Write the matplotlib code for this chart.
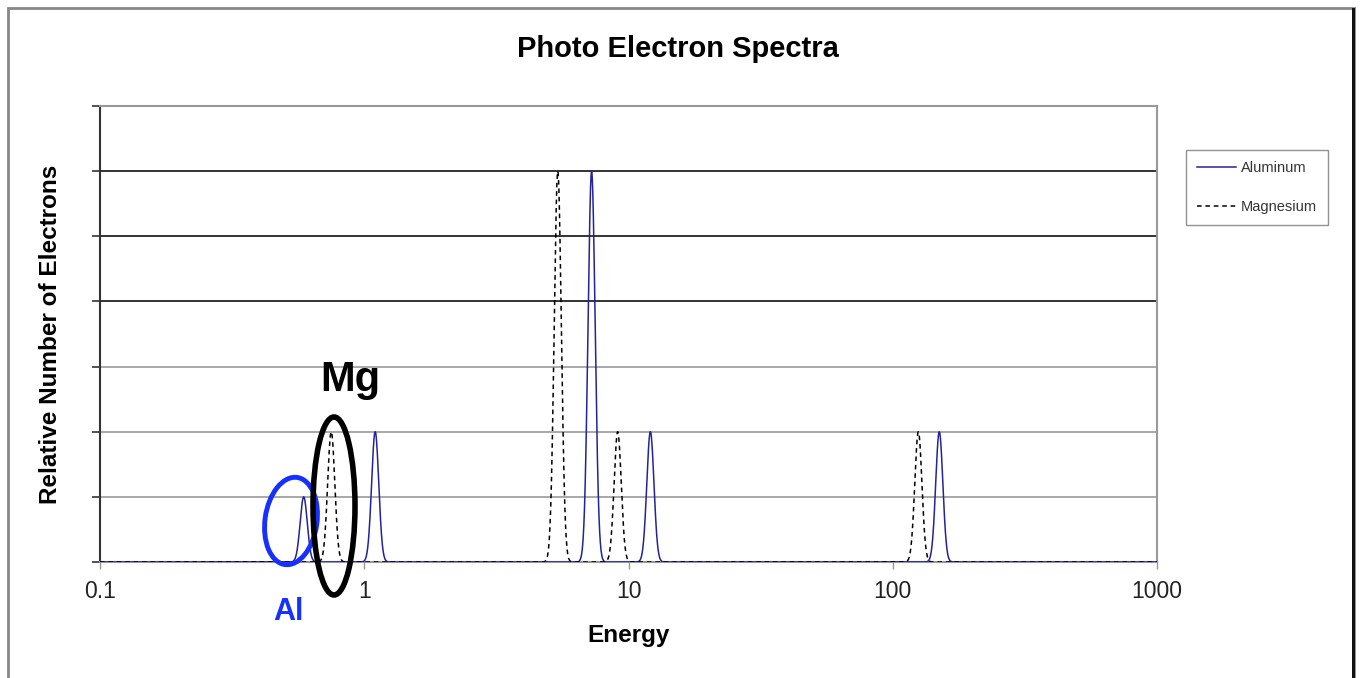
#!/usr/bin/env python3
"""
Photo electron spectra of aluminum and magnesium on a log energy axis.
"""
import numpy as np
import matplotlib
matplotlib.use("Agg")
import matplotlib.pyplot as plt
from matplotlib.patches import Ellipse, Rectangle

# peak energies and relative electron counts
al_energy = [0.59, 1.1, 7.25, 12.1, 150.0]
al_count = [1, 2, 6, 2, 2]
mg_energy = [0.75, 5.4, 9.1, 125.0]
mg_count = [2, 6, 2, 2]

x_ticks = [0.1, 1, 10, 100, 1000]
x_tick_labels = ["0.1", "1", "10", "100", "1000"]

PEAK_SIGMA = 0.0135  # peak width in decades


def spectrum(energy, centers, heights):
    logx = np.log10(energy)
    y = np.zeros_like(energy)
    for c, h in zip(centers, heights):
        y += h * np.exp(-0.5 * ((logx - np.log10(c)) / PEAK_SIGMA) ** 2)
    return y


def main():
    plt.rcParams["font.family"] = ["Liberation Sans", "DejaVu Sans"]

    W, H = 1362, 678
    fig = plt.figure(figsize=(W / 100, H / 100), dpi=100)
    ax = fig.add_axes([100 / W, 1 - 562 / H, (1157 - 100) / W, (562 - 106) / H])

    e = np.logspace(-1, 3, 6000)
    ax.plot(e, spectrum(e, al_energy, al_count), color="#23239a", lw=1.1,
            label="Aluminum", zorder=3)
    ax.plot(e, spectrum(e, mg_energy, mg_count), color="black", lw=1.1,
            ls=(0, (3, 2.5)), label="Magnesium", zorder=3)

    ax.set_xscale("log")
    ax.set_xlim(0.1, 1000)
    ax.set_ylim(0, 7)
    ax.set_xticks(x_ticks)
    ax.set_xticklabels(x_tick_labels)
    ax.xaxis.set_minor_locator(matplotlib.ticker.NullLocator())
    ax.set_yticks(range(8))
    ax.set_yticklabels([])
    ax.tick_params(axis="y", direction="out", length=6, width=1.2, color="#333333")
    ax.tick_params(axis="x", direction="out", length=5, width=1, color="#999999",
                   labelsize=16.5, pad=8, labelcolor="#222222")

    # horizontal gridlines: upper three render dark, lower three lighter
    for lvl in range(1, 7):
        col = "#111111" if lvl >= 4 else "#9a9a9a"
        ax.axhline(lvl, color=col, lw=1.2, zorder=1)

    for side in ["top", "right", "bottom"]:
        ax.spines[side].set_color("#999999")
        ax.spines[side].set_linewidth(1.5)
    ax.spines["left"].set_color("#333333")
    ax.spines["left"].set_linewidth(1.5)

    ax.set_xlabel("Energy", fontsize=17.5, fontweight="bold", labelpad=15)
    ax.set_ylabel("Relative Number of Electrons", fontsize=17.5, fontweight="bold",
                  labelpad=18)
    fig.text(678 / W, 1 - 49 / H, "Photo Electron Spectra", fontsize=21,
             fontweight="bold", ha="center", va="center")

    leg = ax.legend(loc="upper left", bbox_to_anchor=(1186 / W, 1 - 150 / H),
                    bbox_transform=fig.transFigure, fontsize=10.5, frameon=True,
                    fancybox=False, edgecolor="#777777", handlelength=2.7,
                    labelspacing=1.75, borderpad=0.75, handletextpad=0.3,
                    borderaxespad=0)
    leg.get_frame().set_linewidth(1.0)
    for t in leg.get_texts():
        t.set_color("#333333")

    # outer chart frame
    fig.add_artist(Rectangle((8 / W, -0.05), (1354 - 8) / W, 1 - 8 / H + 0.05,
                             transform=fig.transFigure, fill=False,
                             edgecolor="#888888", lw=2))
    fig.add_artist(Rectangle((1352 / W, -0.05), 3 / W, 1 - 8 / H + 0.05,
                             transform=fig.transFigure, color="#111111", lw=0))

    # hand-drawn markings on the original (placed in inches, 100 px per inch)
    fig.add_artist(Ellipse((2.91, (H - 521) / 100), 0.52, 0.88, angle=-8,
                           transform=fig.dpi_scale_trans, fill=False,
                           edgecolor="#1530ff", lw=3.5))
    fig.text(288 / W, 1 - 612 / H, "Al", color="#1530ff", fontsize=22,
             fontweight="bold", ha="center", va="center")
    fig.add_artist(Ellipse((3.34, (H - 506) / 100), 0.42, 1.78,
                           transform=fig.dpi_scale_trans, fill=False,
                           edgecolor="black", lw=4))
    fig.text(350 / W, 1 - 380 / H, "Mg", color="black", fontsize=30,
             fontweight="bold", ha="center", va="center")

    fig.savefig("out.png", dpi=100)


if __name__ == "__main__":
    main()
